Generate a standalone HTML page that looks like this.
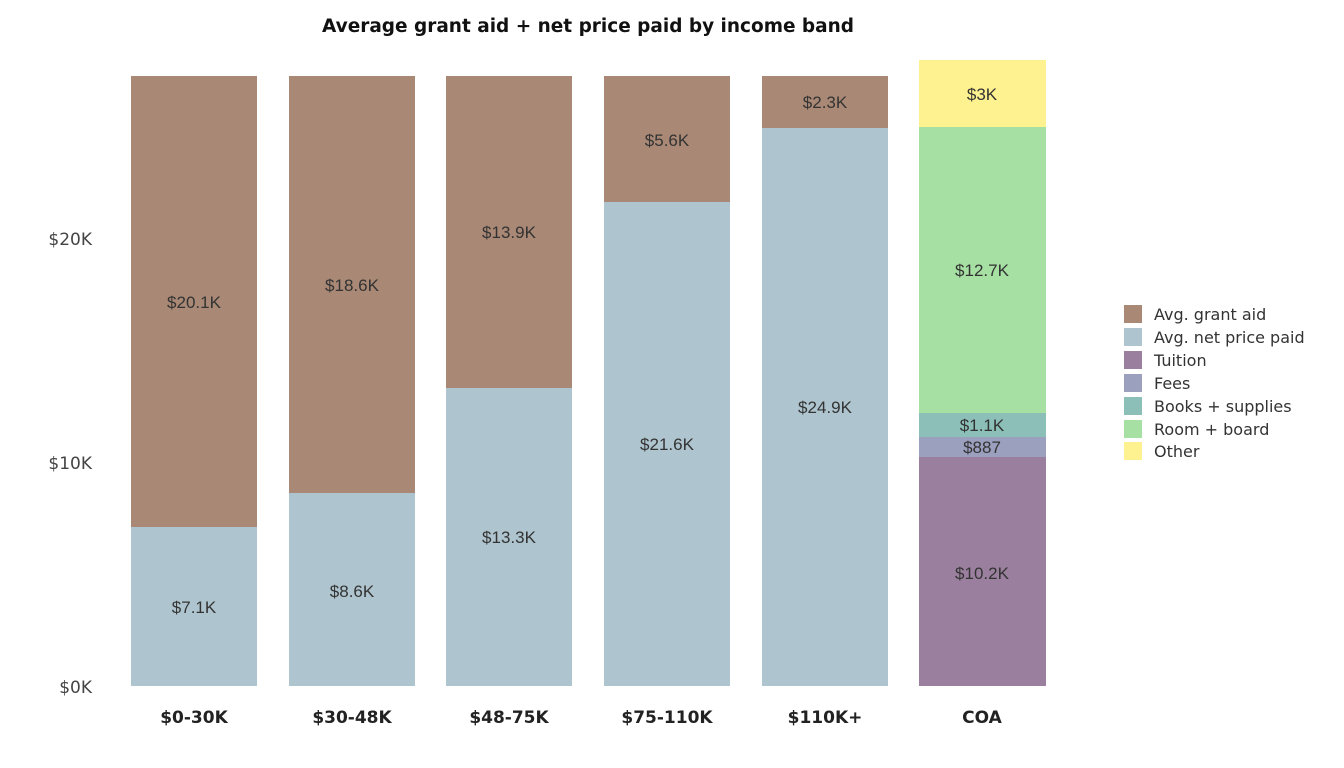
<!DOCTYPE html>
<html><head><meta charset="utf-8"><style>
body{margin:0;background:#fff;}
svg{display:block;font-family:"Liberation Sans",sans-serif;}
.d{font-family:"DejaVu Sans",sans-serif;}
</style></head><body>
<svg width="1344" height="768" viewBox="0 0 1344 768">
<text class="d" x="588" y="32" text-anchor="middle" font-size="18.5" font-weight="bold" fill="#111" textLength="532" lengthAdjust="spacingAndGlyphs">Average grant aid + net price paid by income band</text>
<g class="d" font-size="17" fill="#444" text-anchor="end">
<text x="92" y="693">$0K</text>
<text x="92" y="469">$10K</text>
<text x="92" y="245">$20K</text>
</g>
<g>
<rect x="131" y="527" width="126" height="159" fill="#aec4ce"/>
<rect x="131" y="76" width="126" height="451" fill="#a98875"/>
<rect x="289" y="493" width="126" height="193" fill="#aec4ce"/>
<rect x="289" y="76" width="126" height="417" fill="#a98875"/>
<rect x="446" y="388" width="126" height="298" fill="#aec4ce"/>
<rect x="446" y="76" width="126" height="312" fill="#a98875"/>
<rect x="604" y="202" width="126" height="484" fill="#aec4ce"/>
<rect x="604" y="76" width="126" height="126" fill="#a98875"/>
<rect x="762" y="128" width="126" height="558" fill="#aec4ce"/>
<rect x="762" y="76" width="126" height="52" fill="#a98875"/>
<rect x="919" y="457" width="127" height="229" fill="#9a809e"/>
<rect x="919" y="437" width="127" height="20" fill="#9ba0bf"/>
<rect x="919" y="413" width="127" height="24" fill="#8bbfb8"/>
<rect x="919" y="127" width="127" height="286" fill="#a6e0a3"/>
<rect x="919" y="60" width="127" height="67" fill="#fef18f"/>
</g>
<g font-size="17" fill="#333" text-anchor="middle">
<text x="194" y="613">$7.1K</text>
<text x="194" y="308">$20.1K</text>
<text x="352" y="597">$8.6K</text>
<text x="352" y="291">$18.6K</text>
<text x="509" y="543">$13.3K</text>
<text x="509" y="238">$13.9K</text>
<text x="667" y="450">$21.6K</text>
<text x="667" y="146">$5.6K</text>
<text x="825" y="413">$24.9K</text>
<text x="825" y="108">$2.3K</text>
<text x="982" y="579">$10.2K</text>
<text x="982" y="453">$887</text>
<text x="982" y="431">$1.1K</text>
<text x="982" y="276">$12.7K</text>
<text x="982" y="100">$3K</text>
</g>
<g class="d" font-size="17" font-weight="bold" fill="#222" text-anchor="middle">
<text x="194" y="723">$0-30K</text>
<text x="352" y="723">$30-48K</text>
<text x="509" y="723">$48-75K</text>
<text x="667" y="723">$75-110K</text>
<text x="825" y="723">$110K+</text>
<text x="982" y="723">COA</text>
</g>
<g class="d" font-size="16" fill="#333">
<rect x="1124" y="305" width="18" height="18" fill="#a98875"/><text x="1154" y="320">Avg. grant aid</text>
<rect x="1124" y="328" width="18" height="18" fill="#aec4ce"/><text x="1154" y="343">Avg. net price paid</text>
<rect x="1124" y="351" width="18" height="18" fill="#9a809e"/><text x="1154" y="366">Tuition</text>
<rect x="1124" y="374" width="18" height="18" fill="#9ba0bf"/><text x="1154" y="389">Fees</text>
<rect x="1124" y="397" width="18" height="18" fill="#8bbfb8"/><text x="1154" y="412">Books + supplies</text>
<rect x="1124" y="420" width="18" height="18" fill="#a6e0a3"/><text x="1154" y="435">Room + board</text>
<rect x="1124" y="442" width="18" height="18" fill="#fef18f"/><text x="1154" y="457">Other</text>
</g>
</svg>
</body></html>
